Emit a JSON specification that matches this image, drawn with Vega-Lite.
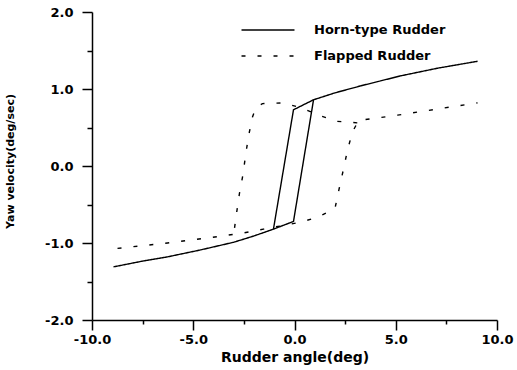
{
  "$schema": "https://vega.github.io/schema/vega-lite/v6.json",
  "width": 405,
  "height": 308,
  "autosize": "none",
  "padding": {"left": 92, "top": 12, "right": 20, "bottom": 50},
  "background": "white",
  "config": {"view": {"stroke": null}, "font": "DejaVu Sans"},
  "data": {"values": [
    {"series": "Horn-type Rudder", "seg": "H1", "o": 1, "x": -8.94, "y": -1.31},
    {"series": "Horn-type Rudder", "seg": "H1", "o": 2, "x": -7.5, "y": -1.235},
    {"series": "Horn-type Rudder", "seg": "H1", "o": 3, "x": -6.27, "y": -1.18},
    {"series": "Horn-type Rudder", "seg": "H1", "o": 4, "x": -4.64, "y": -1.09},
    {"series": "Horn-type Rudder", "seg": "H1", "o": 5, "x": -3.0, "y": -0.99},
    {"series": "Horn-type Rudder", "seg": "H1", "o": 6, "x": -2.02, "y": -0.91},
    {"series": "Horn-type Rudder", "seg": "H1", "o": 7, "x": -1.04, "y": -0.82},
    {"series": "Horn-type Rudder", "seg": "H1", "o": 8, "x": -0.05, "y": -0.72},
    {"series": "Horn-type Rudder", "seg": "H1", "o": 9, "x": 0.94, "y": 0.86},
    {"series": "Horn-type Rudder", "seg": "H1", "o": 10, "x": 2.0, "y": 0.95},
    {"series": "Horn-type Rudder", "seg": "H1", "o": 11, "x": 3.26, "y": 1.04},
    {"series": "Horn-type Rudder", "seg": "H1", "o": 12, "x": 5.23, "y": 1.17},
    {"series": "Horn-type Rudder", "seg": "H1", "o": 13, "x": 7.06, "y": 1.27},
    {"series": "Horn-type Rudder", "seg": "H1", "o": 14, "x": 9.04, "y": 1.36},
    {"series": "Horn-type Rudder", "seg": "H2", "o": 1, "x": 0.94, "y": 0.86},
    {"series": "Horn-type Rudder", "seg": "H2", "o": 2, "x": -0.05, "y": 0.73},
    {"series": "Horn-type Rudder", "seg": "H2", "o": 3, "x": -1.04, "y": -0.82},
    {"series": "Flapped Rudder", "seg": "F1", "o": 1, "x": -8.74, "y": -1.07},
    {"series": "Flapped Rudder", "seg": "F1", "o": 2, "x": -6.27, "y": -1.0},
    {"series": "Flapped Rudder", "seg": "F1", "o": 3, "x": -4.15, "y": -0.93},
    {"series": "Flapped Rudder", "seg": "F1", "o": 4, "x": -2.52, "y": -0.87},
    {"series": "Flapped Rudder", "seg": "F1", "o": 5, "x": -1.53, "y": -0.82},
    {"series": "Flapped Rudder", "seg": "F1", "o": 6, "x": 0.3, "y": -0.73},
    {"series": "Flapped Rudder", "seg": "F1", "o": 7, "x": 1.2, "y": -0.66},
    {"series": "Flapped Rudder", "seg": "F1", "o": 8, "x": 2.0, "y": -0.55},
    {"series": "Flapped Rudder", "seg": "F1", "o": 9, "x": 2.2, "y": -0.30},
    {"series": "Flapped Rudder", "seg": "F1", "o": 10, "x": 2.42, "y": -0.04},
    {"series": "Flapped Rudder", "seg": "F1", "o": 11, "x": 2.62, "y": 0.21},
    {"series": "Flapped Rudder", "seg": "F1", "o": 12, "x": 2.86, "y": 0.44},
    {"series": "Flapped Rudder", "seg": "F1", "o": 13, "x": 3.1, "y": 0.56},
    {"series": "Flapped Rudder", "seg": "F1", "o": 14, "x": 3.4, "y": 0.60},
    {"series": "Flapped Rudder", "seg": "F1", "o": 15, "x": 5.09, "y": 0.66},
    {"series": "Flapped Rudder", "seg": "F1", "o": 16, "x": 7.06, "y": 0.74},
    {"series": "Flapped Rudder", "seg": "F1", "o": 17, "x": 9.04, "y": 0.82},
    {"series": "Flapped Rudder", "seg": "F2", "o": 1, "x": 3.1, "y": 0.56},
    {"series": "Flapped Rudder", "seg": "F2", "o": 2, "x": 2.12, "y": 0.58},
    {"series": "Flapped Rudder", "seg": "F2", "o": 3, "x": 1.19, "y": 0.66},
    {"series": "Flapped Rudder", "seg": "F2", "o": 4, "x": 0.3, "y": 0.76},
    {"series": "Flapped Rudder", "seg": "F2", "o": 5, "x": -0.59, "y": 0.82},
    {"series": "Flapped Rudder", "seg": "F2", "o": 6, "x": -1.58, "y": 0.81},
    {"series": "Flapped Rudder", "seg": "F2", "o": 7, "x": -1.9, "y": 0.76},
    {"series": "Flapped Rudder", "seg": "F2", "o": 8, "x": -2.07, "y": 0.64},
    {"series": "Flapped Rudder", "seg": "F2", "o": 9, "x": -2.27, "y": 0.39},
    {"series": "Flapped Rudder", "seg": "F2", "o": 10, "x": -2.42, "y": 0.13},
    {"series": "Flapped Rudder", "seg": "F2", "o": 11, "x": -2.55, "y": -0.12},
    {"series": "Flapped Rudder", "seg": "F2", "o": 12, "x": -2.72, "y": -0.36},
    {"series": "Flapped Rudder", "seg": "F2", "o": 13, "x": -2.86, "y": -0.61},
    {"series": "Flapped Rudder", "seg": "F2", "o": 14, "x": -3.0, "y": -0.88}
  ]},
  "mark": {"type": "line", "color": "black", "strokeWidth": 1.4},
  "encoding": {
    "x": {
      "field": "x", "type": "quantitative",
      "scale": {"domain": [-10, 10], "nice": false, "zero": false},
      "axis": {
        "values": [-10, -7.5, -5, -2.5, 0, 2.5, 5, 7.5, 10],
        "grid": false,
        "domainColor": "black", "domainWidth": 1.5,
        "tickColor": "black", "tickWidth": 1.5,
        "tickSize": {"condition": {"test": "datum.value % 5 === 0", "value": 10}, "value": 4},
        "labelExpr": "datum.value % 5 === 0 ? (datum.value < 0 ? '-' + format(-datum.value, '.1f') : format(datum.value, '.1f')) : ''",
        "labelFont": "DejaVu Sans", "labelFontWeight": "bold", "labelFontSize": 13, "labelColor": "black",
        "labelPadding": 3, "labelFlush": false,
        "title": "Rudder angle(deg)",
        "titleFont": "DejaVu Sans", "titleFontWeight": "bold", "titleFontSize": 14, "titleColor": "black",
        "titleY": 37, "titleBaseline": "middle"
      }
    },
    "y": {
      "field": "y", "type": "quantitative",
      "scale": {"domain": [-2, 2], "nice": false, "zero": false},
      "axis": {
        "values": [-2, -1.5, -1, -0.5, 0, 0.5, 1, 1.5, 2],
        "grid": false,
        "domainColor": "black", "domainWidth": 1.5,
        "tickColor": "black", "tickWidth": 1.5,
        "tickSize": {"condition": {"test": "datum.value % 1 === 0", "value": 10}, "value": 5},
        "labelExpr": "datum.value % 1 === 0 ? (datum.value < 0 ? '-' + format(-datum.value, '.1f') : format(datum.value, '.1f')) : ''",
        "labelFont": "DejaVu Sans", "labelFontWeight": "bold", "labelFontSize": 13, "labelColor": "black",
        "labelPadding": 9, "labelFlush": false,
        "title": "Yaw velocity(deg/sec)",
        "titleFont": "DejaVu Sans", "titleFontWeight": "bold", "titleFontSize": 11, "titleColor": "black",
        "titleX": -82, "titleY": 149, "titleBaseline": "middle", "titleAlign": "center", "titleAngle": -90
      }
    },
    "detail": {"field": "seg"},
    "order": {"field": "o", "type": "quantitative"},
    "strokeDash": {
      "field": "series", "type": "nominal",
      "scale": {"domain": ["Horn-type Rudder", "Flapped Rudder"], "range": [[1, 0], [4, 12]]},
      "legend": {
        "title": null, "orient": "none", "legendX": 162, "legendY": 4,
        "symbolType": "M-2,0H2", "symbolSize": 702, "symbolStrokeColor": "black", "symbolStrokeWidth": 1.4,
        "symbolFillColor": "transparent",
        "labelFont": "DejaVu Sans", "labelFontWeight": "bold", "labelFontSize": 13, "labelColor": "black",
        "labelOffset": 32, "rowPadding": 5, "padding": 0
      }
    }
  }
}
